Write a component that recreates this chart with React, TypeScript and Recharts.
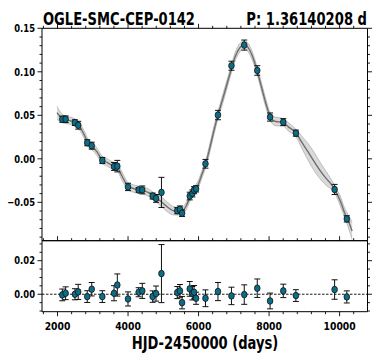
import React from 'react';
import { ComposedChart, XAxis, YAxis, Line, Area, Scatter, ErrorBar, ReferenceLine } from 'recharts';

// observed light curve (HJD-2450000, mag offset, error)
const obsHjd = [2136, 2230, 2494, 2587, 2843, 2970, 3271, 3603, 3696, 3999, 4301, 4404, 4698, 4794, 4948, 5396, 5472, 5532, 5750, 5824, 5872, 5929, 6196, 6550, 6933, 7296, 7665, 8028, 8403, 8760, 9858, 10204];
const obsMag = [0.0455, 0.0455, 0.0416, 0.0386, 0.0185, 0.0151, -0.0019, -0.0088, -0.0084, -0.0323, -0.0357, -0.0357, -0.0428, -0.0455, -0.0386, -0.0595, -0.058, -0.0625, -0.0428, -0.0398, -0.036, -0.0345, -0.0057, 0.0503, 0.107, 0.1307, 0.1015, 0.048, 0.0422, 0.0295, -0.0352, -0.069];
const obsErr = [0.0035, 0.0038, 0.0033, 0.0045, 0.0035, 0.004, 0.0035, 0.0045, 0.0066, 0.0042, 0.0027, 0.0045, 0.0034, 0.0045, 0.0173, 0.0036, 0.0038, 0.0037, 0.0044, 0.004, 0.004, 0.0036, 0.005, 0.0054, 0.0052, 0.0058, 0.0055, 0.0047, 0.004, 0.0035, 0.0058, 0.0036];
const residuals = [-0.0004, 0.0006, 0.0, 0.0014, -0.0014, 0.003, -0.0014, 0.0006, 0.0055, -0.0028, 0.0012, 0.002, -0.0014, 0.0004, 0.0123, 0.001, 0.002, -0.005, 0.0032, 0.0006, 0.0012, -0.0024, -0.0024, 0.0016, -0.001, -0.0002, 0.0036, -0.004, 0.002, -0.0008, 0.0028, -0.0016];

// model curve and its band half width
const modelHjd = [1986, 2128, 2241, 2383, 2525, 2638, 2752, 2865, 2978, 3120, 3262, 3404, 3546, 3688, 3830, 4000, 4141, 4283, 4425, 4567, 4709, 4851, 4992, 5134, 5276, 5418, 5531, 5645, 5758, 5872, 5985, 6098, 6212, 6325, 6439, 6552, 6665, 6779, 6921, 7034, 7176, 7290, 7403, 7517, 7659, 7801, 7914, 8028, 8141, 8283, 8397, 8539, 8766, 8936, 9106, 9276, 9447, 9617, 9759, 9872, 10014, 10156, 10241, 10355];
const modelMag = [0.053, 0.0465, 0.0448, 0.0435, 0.041, 0.0365, 0.028, 0.0185, 0.0145, 0.008, -0.001, -0.004, -0.0075, -0.0095, -0.02, -0.0315, -0.034, -0.0355, -0.0365, -0.0385, -0.0425, -0.0465, -0.051, -0.056, -0.0595, -0.0605, -0.06, -0.0545, -0.044, -0.0365, -0.03, -0.0175, -0.0045, 0.0135, 0.033, 0.0505, 0.066, 0.082, 0.102, 0.117, 0.128, 0.1315, 0.128, 0.119, 0.1015, 0.08, 0.063, 0.049, 0.0435, 0.0425, 0.042, 0.037, 0.0295, 0.0185, 0.008, -0.003, -0.0135, -0.0225, -0.029, -0.036, -0.048, -0.0635, -0.071, -0.083];
const modelSig = [0.0075, 0.0048, 0.0042, 0.0042, 0.0042, 0.0042, 0.0042, 0.0042, 0.0042, 0.0042, 0.0042, 0.0042, 0.0042, 0.0042, 0.0048, 0.0042, 0.0042, 0.0042, 0.0042, 0.0042, 0.0042, 0.0048, 0.0055, 0.0055, 0.0048, 0.0042, 0.0042, 0.0042, 0.0042, 0.0042, 0.0042, 0.0042, 0.0042, 0.0048, 0.0048, 0.0042, 0.0048, 0.0048, 0.0042, 0.0048, 0.0048, 0.0042, 0.0048, 0.0048, 0.0042, 0.0048, 0.0048, 0.0042, 0.0048, 0.0048, 0.0042, 0.0048, 0.0042, 0.007, 0.0095, 0.0105, 0.0095, 0.008, 0.0055, 0.0042, 0.0055, 0.0055, 0.007, 0.01];

// ticks
const xMajor = [2000, 4000, 6000, 8000, 10000];
const xMinor = [1600, 2000, 2400, 2800, 3200, 3600, 4000, 4400, 4800, 5200, 5600, 6000, 6400, 6800, 7200, 7600, 8000, 8400, 8800, 9200, 9600, 10000, 10400];
const topMajor = [-0.05, 0, 0.05, 0.1, 0.15];
const topMinor = [-0.09, -0.08, -0.07, -0.06, -0.05, -0.04, -0.03, -0.02, -0.01, 0, 0.01, 0.02, 0.03, 0.04, 0.05, 0.06, 0.07, 0.08, 0.09, 0.1, 0.11, 0.12, 0.13, 0.14, 0.15];
const resMajor = [0, 0.02];
const resMinor = [-0.01, -0.005, 0, 0.005, 0.01, 0.015, 0.02, 0.025, 0.03];

const X_DOMAIN: [number, number] = [1560, 10791];
const TOP_DOMAIN: [number, number] = [-0.0941, 0.15];
const RES_DOMAIN: [number, number] = [-0.0104, 0.0319];

const FONT = '"DejaVu Sans", sans-serif';
const DOT = '#0b6d86';

const obsData = obsHjd.map((x, i) => ({ x, y: obsMag[i], err: obsErr[i] }));
const resData = obsHjd.map((x, i) => ({ x, y: residuals[i], err: obsErr[i] }));
const modelData = modelHjd.map((x, i) => ({
  x,
  y: modelMag[i],
  band: [modelMag[i] - modelSig[i], modelMag[i] + modelSig[i]],
}));

// DejaVu Sans Bold advance widths (em)
const CW: Record<string, number> = { '.': 0.38, '\u2212': 0.838, '-': 0.415 };
const textW = (s: string, size: number) =>
  s.split('').reduce((a, c) => a + (CW[c] ?? 0.696), 0) * size;

const fmtY = (v: number) => (v < -1e-9 ? '\u2212' : '') + Math.abs(v).toFixed(2);

function Tick(props: any) {
  const { x, y, payload, side, majorVals, withLabel, fmt, sq } = props;
  const v = payload.value;
  const major = majorVals.some((m: number) => Math.abs(m - v) < 1e-9);
  const len = major ? 4.5 : 2.5;
  let x2 = x, y2 = y;
  if (side === 'left') x2 = x - len;
  if (side === 'right') x2 = x + len;
  if (side === 'top') y2 = y - len;
  if (side === 'bottom') y2 = y + len;
  let label = null;
  if (withLabel && major) {
    const s = fmt(v);
    const size = 10.5;
    const common = {
      fontFamily: FONT,
      fontWeight: 'bold' as const,
      fontSize: size,
      fill: '#000',
      textLength: textW(s, size) * sq,
      lengthAdjust: 'spacingAndGlyphs',
    };
    label = side === 'left'
      ? <text x={x - 7} y={y} dy="0.36em" textAnchor="end" {...common}>{s}</text>
      : <text x={x} y={y + 18.3} textAnchor="middle" {...common}>{s}</text>;
  }
  return (
    <g>
      <line x1={x} y1={y} x2={x2} y2={y2} stroke="#000" strokeWidth={0.9} />
      {label}
    </g>
  );
}

const dotShape = (p: any) => (
  <ellipse cx={p.cx} cy={p.cy} rx={2.8} ry={3.3} fill={DOT} stroke="#111" strokeWidth={0.8} />
);

const axisLine = { stroke: '#000', strokeWidth: 1 };

export default function App() {
  return (
    <div style={{ position: 'absolute', left: 0, top: 0, width: 379, height: 363, background: '#fff' }}>
      <div style={{ position: 'absolute', left: 0, top: 0 }}>
        <ComposedChart width={379} height={243} margin={{ top: 27.3, right: 10.5, bottom: 1.3, left: 0 }}>
          <XAxis type="number" dataKey="x" domain={X_DOMAIN} allowDataOverflow height={1} tick={false} tickLine={false} axisLine={axisLine} />
          <XAxis xAxisId="t" orientation="top" type="number" dataKey="x" domain={X_DOMAIN} allowDataOverflow height={1}
            ticks={xMinor} interval={0} tickSize={0} tickMargin={0} tickLine={false} axisLine={axisLine}
            tick={<Tick side="top" majorVals={xMajor} withLabel={false} />} />
          <YAxis type="number" domain={TOP_DOMAIN} allowDataOverflow width={42} ticks={topMinor} interval={0}
            tickSize={0} tickMargin={0} tickLine={false} axisLine={axisLine}
            tick={<Tick side="left" majorVals={topMajor} withLabel fmt={fmtY} sq={0.8} />} />
          <YAxis yAxisId="r" orientation="right" type="number" domain={TOP_DOMAIN} allowDataOverflow width={1} ticks={topMinor} interval={0}
            tickSize={0} tickMargin={0} tickLine={false} axisLine={axisLine}
            tick={<Tick side="right" majorVals={topMajor} withLabel={false} />} />
          <Area data={modelData} dataKey="band" type="monotone" fill="#d4d4d4" fillOpacity={0.85} stroke="#a8a8a8" strokeWidth={0.7} isAnimationActive={false} />
          <Line data={modelData} dataKey="y" type="monotone" dot={false} stroke="#6e6e6e" strokeWidth={1.4} isAnimationActive={false} />
          <Scatter data={obsData} dataKey="y" shape={dotShape} isAnimationActive={false}>
            <ErrorBar dataKey="err" direction="y" width={3} stroke="#111" strokeWidth={1} />
          </Scatter>
        </ComposedChart>
      </div>
      <div style={{ position: 'absolute', left: 0, top: 0 }}>
        <ComposedChart width={379} height={363} margin={{ top: 239.7, right: 10.5, bottom: 50.3, left: 0 }}>
          <XAxis type="number" dataKey="x" domain={X_DOMAIN} allowDataOverflow height={1} ticks={xMinor} interval={0}
            tickSize={0} tickMargin={0} tickLine={false} axisLine={axisLine}
            tick={<Tick side="bottom" majorVals={xMajor} withLabel fmt={(v: number) => String(v)} sq={0.88} />} />
          <XAxis xAxisId="t" orientation="top" type="number" dataKey="x" domain={X_DOMAIN} allowDataOverflow height={1}
            ticks={xMinor} interval={0} tickSize={0} tickMargin={0} tickLine={false} axisLine={axisLine}
            tick={<Tick side="top" majorVals={xMajor} withLabel={false} />} />
          <YAxis type="number" domain={RES_DOMAIN} allowDataOverflow width={42} ticks={resMinor} interval={0}
            tickSize={0} tickMargin={0} tickLine={false} axisLine={axisLine}
            tick={<Tick side="left" majorVals={resMajor} withLabel fmt={fmtY} sq={0.8} />} />
          <YAxis yAxisId="r" orientation="right" type="number" domain={RES_DOMAIN} allowDataOverflow width={1} ticks={resMinor} interval={0}
            tickSize={0} tickMargin={0} tickLine={false} axisLine={axisLine}
            tick={<Tick side="right" majorVals={resMajor} withLabel={false} />} />
          <ReferenceLine y={0} stroke="#000" strokeWidth={0.9} strokeDasharray="2.5 1.5" />
          <Scatter data={resData} dataKey="y" shape={dotShape} isAnimationActive={false}>
            <ErrorBar dataKey="err" direction="y" width={3} stroke="#111" strokeWidth={1} />
          </Scatter>
        </ComposedChart>
      </div>
      <svg width={379} height={363} style={{ position: 'absolute', left: 0, top: 0, pointerEvents: 'none' }}>
        <text transform="translate(43,24.5) scale(0.727,1)" fontFamily={FONT} fontWeight="bold" fontSize={18}>
          OGLE-SMC-CEP-0142
        </text>
        <text transform="translate(367,24.5) scale(0.73,1)" textAnchor="end" fontFamily={FONT} fontWeight="bold" fontSize={18}>
          P: 1.36140208 d
        </text>
        <text transform="translate(205,349) scale(0.77,1)" textAnchor="middle" fontFamily={FONT} fontWeight="bold" fontSize={17}>
          HJD-2450000 (days)
        </text>
      </svg>
    </div>
  );
}
